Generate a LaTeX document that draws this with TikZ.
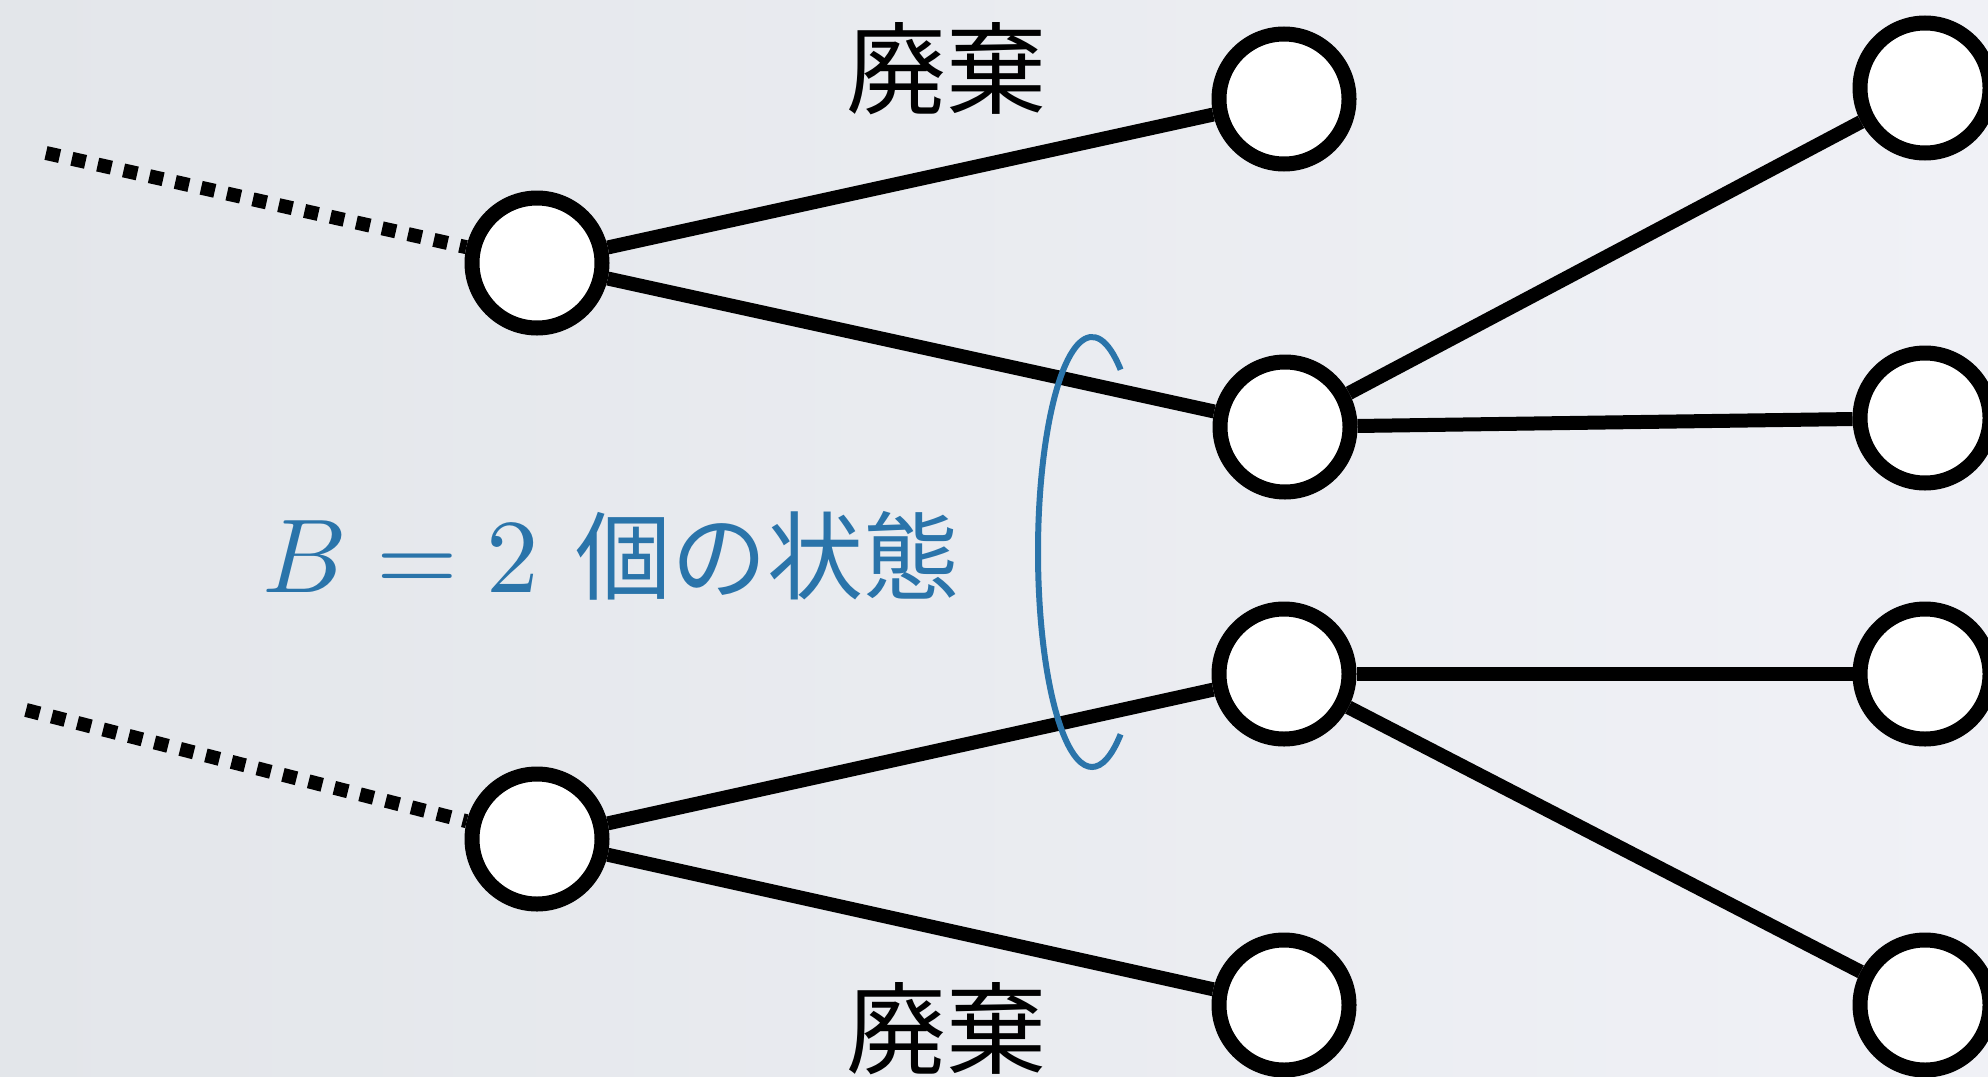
\documentclass[tikz,border=0pt]{standalone}
\usepackage{fontspec}
\newfontfamily\jp{Noto Sans CJK JP}
\definecolor{bl}{RGB}{42,116,170}
\definecolor{bgl}{RGB}{227,230,234}
\definecolor{bgr}{RGB}{240,241,246}
\tikzset{
  st/.style={circle, draw=black, fill=white, line width=15pt, minimum size=130pt, inner sep=0pt},
  edge/.style={line width=14pt, black},
  dots/.style={line width=14pt, black, dash pattern=on 14pt off 12.5pt},
  lbl/.style={inner sep=0pt, anchor=base},
}
\begin{document}
\begin{tikzpicture}[x=1pt, y=-1pt]
\useasboundingbox (0,0) rectangle (1988,1076);
\shade[left color=bgl, right color=bgr] (0,0) rectangle (1988,1076);
% nodes
\node[st] (A) at (537,263) {};
\node[st] (B) at (537,839) {};
\node[st] (C) at (1284,99) {};
\node[st] (D) at (1285,427) {};
\node[st] (E) at (1284,674) {};
\node[st] (F) at (1284,1005) {};
\node[st] (R1) at (1925,88) {};
\node[st] (R2) at (1925,418) {};
\node[st] (R3) at (1925,674) {};
\node[st] (R4) at (1925,1005) {};
\coordinate (s1) at (46,153);
\coordinate (s2) at (26,710);
% connectors
\draw[edge] (A) -- (C);
\draw[edge] (A) -- (D);
\draw[edge] (D) -- (R1);
\draw[edge] (D) -- (R2);
\draw[edge] (E) -- (R3);
\draw[edge] (E) -- (R4);
\draw[edge] (B) -- (E);
\draw[edge] (B) -- (F);
\draw[dots] (s1) -- (A);
\draw[dots] (s2) -- (B);
% labels
\node[lbl] (t1) at (946,106) {\scalebox{10}{\jp 廃棄}};
\node[lbl] (t2) at (946,1066) {\scalebox{10}{\jp 廃棄}};
\node[lbl, anchor=base west, text=bl] (t3) at (262,592) {\scalebox{10.5}{$B=2$}\hspace{36pt}\scalebox{9.6}{\jp 個の状態}};
% ellipse
\coordinate (ell) at (1092,552);
\draw[bl, line width=6pt] (ell) ++(-58:54 and 215) arc[start angle=-58, end angle=-302, x radius=54, y radius=215];
\end{tikzpicture}
\end{document}
